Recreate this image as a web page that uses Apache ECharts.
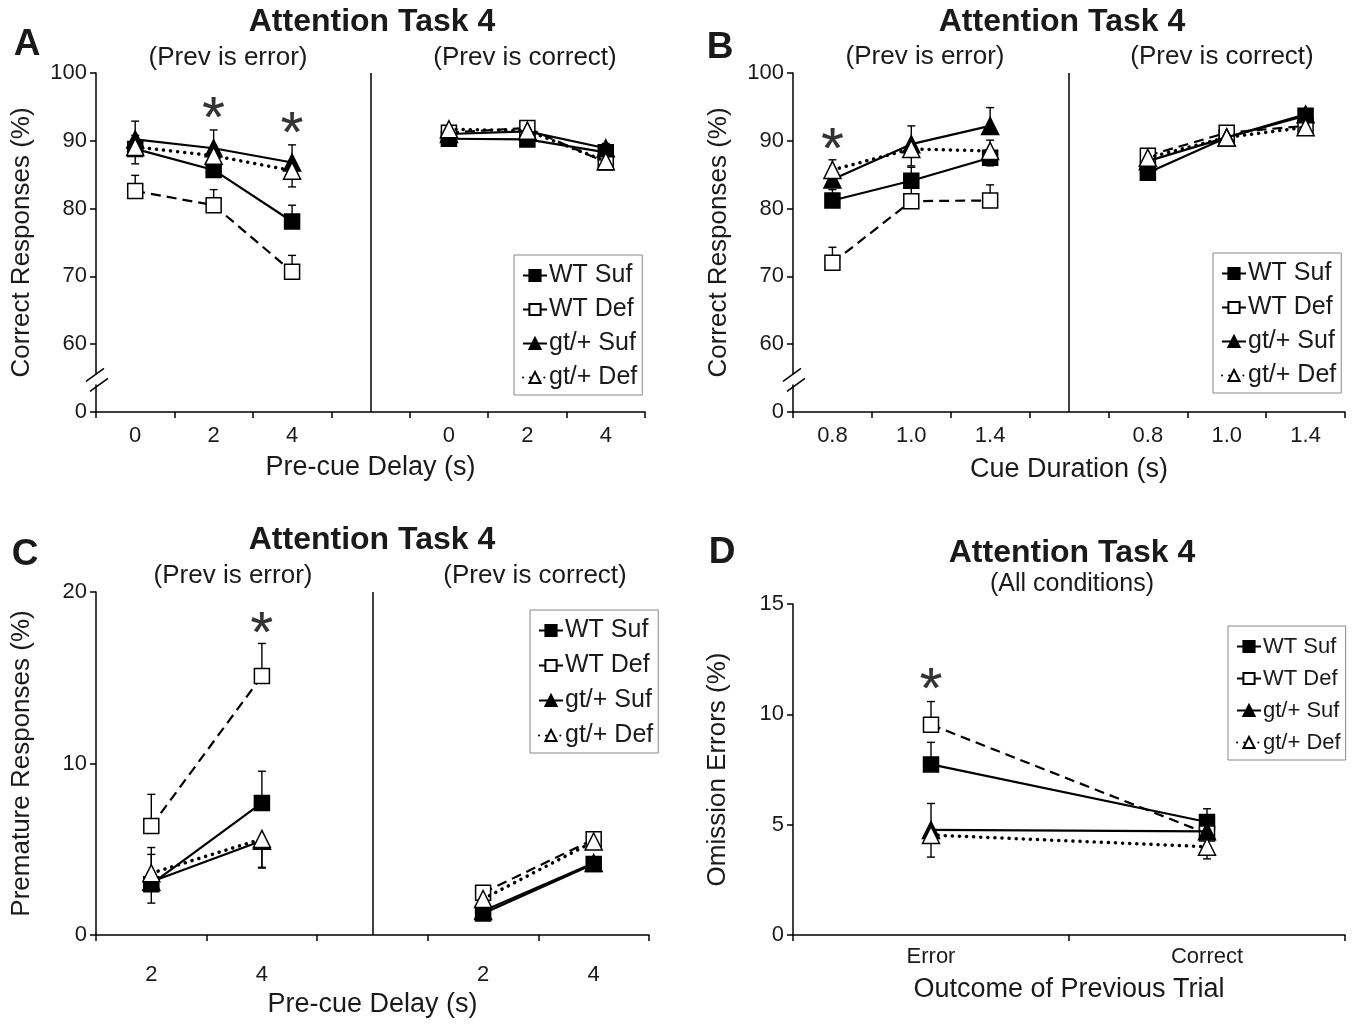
<!DOCTYPE html>
<html>
<head>
<meta charset="utf-8">
<title>Attention Task 4</title>
<script src="https://cdn.jsdelivr.net/npm/echarts@6/dist/echarts.min.js"></script>
<style>
    html, body { margin: 0; padding: 0; background: #fff; }
    #main { width: 1357px; height: 1024px; }
</style>
</head>
<body>
<div id="main"></div>
<script>
    var NAMES = ['WT Suf', 'WT Def', 'gt/+ Suf', 'gt/+ Def'];

    // A: pre-cue delay, prev error | prev correct
    var delaysA = ['0', '2', '4'];
    var A_wtSuf = [88.8, 85.7, 78.1, null, 90.3, 90.2, 88.3];
    var A_wtDef = [82.6, 80.5, 70.7, null, 91.2, 91.9, 86.8];
    var A_gtSuf = [90.2, 88.9, 86.8, null, 91.0, 91.4, 88.9];
    var A_gtDef = [89.1, 87.8, 85.6, null, 91.7, 91.5, 87.0];
    var A_wtSufErr = [2.0, 2.0, 2.4, null, 0.7, 0.7, 0.7];
    var A_wtDefErr = [2.3, 2.3, 2.4, null, 0.7, 0.7, 0.7];
    var A_gtSufErr = [2.7, 2.7, 2.6, null, 0.7, 0.7, 0.7];
    var A_gtDefErr = [-2.5, -2.0, -2.4, null, -0.7, -0.7, -0.7];
    var A_stars = [[1, 94.9], [2, 92.6]];

    // B: cue duration
    var durationsB = ['0.8', '1.0', '1.4'];
    var B_wtSuf = [81.2, 84.1, 87.5, null, 85.3, 90.5, 93.7];
    var B_wtDef = [72.0, 81.1, 81.2, null, 87.8, 91.2, 92.2];
    var B_gtSuf = [84.3, 89.5, 92.2, null, 87.0, 90.5, 93.9];
    var B_gtDef = [85.7, 88.8, 88.5, null, 87.5, 90.5, 92.0];
    var B_wtSufErr = [1.6, 2.0, -1.2, null, 0.6, 0.6, 0.6];
    var B_wtDefErr = [2.3, 2.5, 2.3, null, 0.6, 0.6, 0.6];
    var B_gtSufErr = [1.5, 2.7, 2.7, null, 0.6, 0.6, 0.6];
    var B_gtDefErr = [1.5, -2.5, 1.6, null, -0.6, -0.6, -0.6];
    var B_stars = [[0, 90.2]];

    // C: premature responses
    var delaysC = ['2', '4'];
    var C_wtSuf = [2.96, 7.7, null, 1.26, 4.14];
    var C_wtDef = [6.35, 15.1, null, 2.46, 5.58];
    var C_gtSuf = [3.1, 5.5, null, 1.4, 4.2];
    var C_gtDef = [3.6, 5.6, null, 2.1, 5.45];
    var C_wtSufErr = [-1.1, 1.85, null, -0.3, 0.3];
    var C_wtDefErr = [1.85, 1.9, null, 0.3, 0.3];
    var C_gtSufErr = [1.6, -1.6, null, 0.3, 0.3];
    var C_gtDefErr = [1.5, -1.65, null, 0.3, 0.3];
    var C_stars = [[1, 18.2]];

    // D: omission errors
    var outcomesD = ['Error', 'Correct'];
    var D_wtSuf = [7.73, 5.12];
    var D_wtDef = [9.53, 4.6];
    var D_gtSuf = [4.76, 4.7];
    var D_gtDef = [4.53, 4.0];
    var D_wtSufErr = [1.0, 0.6];
    var D_wtDefErr = [1.05, 0.5];
    var D_gtSufErr = [1.2, 0.5];
    var D_gtDefErr = [-1.0, -0.55];
    var D_stars = [[0, 11.6]];

    var breakAt = 54.8; // where the y axis is broken in A and B

    var FONT = "'Liberation Sans', Arial, sans-serif";
    var INK = '#1a1a1a';

    var STYLES = [
        { symbol: 'rect', size: 15, fill: '#000', type: 'solid', width: 2.2 },
        { symbol: 'rect', size: 15, fill: '#fff', type: [10, 6], width: 2.2 },
        { symbol: 'triangle', size: 17, fill: '#000', type: 'solid', width: 2.2 },
        { symbol: 'triangle', size: 17, fill: '#fff', type: [0.1, 7], width: 3.5, cap: 'round' }
    ];

    var chart = echarts.init(document.getElementById('main'), null, { renderer: 'canvas' });

    function renderErr(params, api) {
        var x = api.value(0), v = api.value(1), e = api.value(2);
        var p0 = api.coord([x, v]);
        var p1 = api.coord([x, v + e]);
        var st = { stroke: '#000', lineWidth: 1.4 };
        return {
            type: 'group',
            children: [
                { type: 'line', shape: { x1: p0[0], y1: p0[1], x2: p1[0], y2: p1[1] }, style: st },
                { type: 'line', shape: { x1: p1[0] - 4, y1: p1[1], x2: p1[0] + 4, y2: p1[1] }, style: st }
            ]
        };
    }

    function renderBreak(params, api) {
        var y = api.coord([0, api.value(1)])[1];
        var x = params.coordSys.x;
        var st = { stroke: '#000', lineWidth: 1.6 };
        return {
            type: 'group',
            children: [
                { type: 'rect', shape: { x: x - 3, y: y - 5, width: 6, height: 10 }, style: { fill: '#fff' } },
                { type: 'line', shape: { x1: x - 10, y1: y + 2, x2: x + 8, y2: y - 11 }, style: st },
                { type: 'line', shape: { x1: x - 6, y1: y + 12, x2: x + 12, y2: y - 1 }, style: st }
            ]
        };
    }

    var grids = [], xAxes = [], yAxes = [], series = [], legends = [], graphics = [];

    function addPanel(cfg) {
        var gi = grids.length;
        grids.push({ left: cfg.left, top: cfg.top, width: cfg.width, height: cfg.height });
        xAxes.push({
            type: 'category', gridIndex: gi, data: cfg.cats, boundaryGap: true,
            name: cfg.xName, nameLocation: 'middle', nameGap: cfg.xNameGap,
            nameTextStyle: { fontFamily: FONT, fontSize: 27, color: INK },
            axisLine: { show: true, lineStyle: { color: '#000', width: 1.5 } },
            axisTick: { show: true, length: 6, lineStyle: { color: '#000', width: 1.5 } },
            axisLabel: { fontFamily: FONT, fontSize: 22, color: INK, margin: cfg.xLabelMargin, interval: 0 },
            splitLine: { show: false }
        });
        yAxes.push({
            type: 'value', gridIndex: gi, min: cfg.yMin, max: cfg.yMax, interval: cfg.yStep,
            name: cfg.yName, nameLocation: 'middle', nameGap: cfg.yNameGap, nameRotate: 90,
            nameTextStyle: { fontFamily: FONT, fontSize: 26, color: INK },
            axisLine: { show: true, lineStyle: { color: '#000', width: 1.5 } },
            axisTick: { show: true, length: 6, lineStyle: { color: '#000', width: 1.5 } },
            axisLabel: {
                fontFamily: FONT, fontSize: 22, color: INK, margin: 9,
                formatter: function (v) { return cfg.brk && v === cfg.yMin ? '0' : String(v); }
            },
            splitLine: { show: false }
        });
        for (var k = 0; k < 4; k++) {
            var st = STYLES[k];
            var s = {
                type: 'line', name: NAMES[k], xAxisIndex: gi, yAxisIndex: gi,
                data: cfg.vals[k], symbol: st.symbol, symbolSize: st.size,
                showAllSymbol: true, connectNulls: false, animation: false, z: 3 + k,
                lineStyle: { color: '#000', width: st.width, type: st.type, cap: st.cap || 'butt' },
                itemStyle: { color: st.fill, borderColor: '#000', borderWidth: 1.5 },
                emphasis: { disabled: true }
            };
            if (k === 0 && cfg.divider != null) {
                s.markLine = {
                    silent: true, symbol: ['none', 'none'], animation: false,
                    label: { show: false },
                    lineStyle: { color: '#000', type: 'solid', width: 1.5 },
                    data: [{ xAxis: cfg.divider }]
                };
            }
            series.push(s);
            var errData = [];
            cfg.vals[k].forEach(function (v, i) {
                var e = cfg.errs[k][i];
                if (v != null && e != null) errData.push([i, v, e]);
            });
            series.push({
                type: 'custom', name: NAMES[k] + ' err', xAxisIndex: gi, yAxisIndex: gi,
                renderItem: renderErr, data: errData, z: 2, animation: false, silent: true
            });
        }
        series.push({
            type: 'scatter', name: 'sig', xAxisIndex: gi, yAxisIndex: gi,
            data: cfg.stars, symbolSize: 1, itemStyle: { color: 'rgba(0,0,0,0)' },
            animation: false, silent: true,
            label: {
                show: true, position: 'inside', formatter: '*', fontFamily: FONT,
                fontSize: 58, color: '#000', textBorderColor: '#000', textBorderWidth: 0.2,
                offset: [0, 13]
            }
        });
        if (cfg.brk) {
            series.push({
                type: 'custom', name: 'break', xAxisIndex: gi, yAxisIndex: gi,
                renderItem: renderBreak, data: [[0, breakAt]], z: 10, animation: false, silent: true
            });
        }
        legends.push({
            data: NAMES, orient: 'vertical', left: cfg.legend[0], top: cfg.legend[1],
            itemWidth: 24, itemHeight: 14, itemGap: cfg.legendGap, selectedMode: false,
            padding: [8, 5, 5, 8], borderColor: '#888', borderWidth: 1,
            textStyle: {
                fontFamily: FONT, fontSize: cfg.legendFont, color: INK, lineHeight: 25,
                padding: [0, 0, 0, -3]
            }
        });
        cfg.texts.forEach(function (t) {
            graphics.push({
                type: 'text', x: t[1], y: t[2],
                style: {
                    text: t[0], fill: INK, textAlign: 'center', textVerticalAlign: 'middle',
                    font: t[3] + ' ' + FONT
                }
            });
        });
    }

    addPanel({
        left: 96, top: 73, width: 549, height: 339,
        cats: delaysA.concat([''], delaysA), divider: 3,
        yMin: 50, yMax: 100, yStep: 10, brk: true,
        xName: 'Pre-cue Delay (s)', xNameGap: 42, xLabelMargin: 13,
        yName: 'Correct Responses (%)', yNameGap: 61,
        vals: [A_wtSuf, A_wtDef, A_gtSuf, A_gtDef],
        errs: [A_wtSufErr, A_wtDefErr, A_gtSufErr, A_gtDefErr],
        stars: A_stars, legend: [514, 255], legendGap: 9, legendFont: 25,
        texts: [
            ['A', 27, 45, 'bold 37px'],
            ['Attention Task 4', 372, 22, 'bold 32px'],
            ['(Prev is error)', 228, 58, '26px'],
            ['(Prev is correct)', 525, 58, '26px']
        ]
    });

    addPanel({
        left: 793, top: 73, width: 552, height: 339,
        cats: durationsB.concat([''], durationsB), divider: 3,
        yMin: 50, yMax: 100, yStep: 10, brk: true,
        xName: 'Cue Duration (s)', xNameGap: 44, xLabelMargin: 13,
        yName: 'Correct Responses (%)', yNameGap: 61,
        vals: [B_wtSuf, B_wtDef, B_gtSuf, B_gtDef],
        errs: [B_wtSufErr, B_wtDefErr, B_gtSufErr, B_gtDefErr],
        stars: B_stars, legend: [1213, 253], legendGap: 9, legendFont: 25,
        texts: [
            ['B', 720, 48, 'bold 37px'],
            ['Attention Task 4', 1062, 22, 'bold 32px'],
            ['(Prev is error)', 925, 57, '26px'],
            ['(Prev is correct)', 1222, 57, '26px']
        ]
    });

    addPanel({
        left: 96, top: 592, width: 553, height: 343,
        cats: delaysC.concat([''], delaysC), divider: 2,
        yMin: 0, yMax: 20, yStep: 10, brk: false,
        xName: 'Pre-cue Delay (s)', xNameGap: 56, xLabelMargin: 29,
        yName: 'Premature Responses (%)', yNameGap: 61,
        vals: [C_wtSuf, C_wtDef, C_gtSuf, C_gtDef],
        errs: [C_wtSufErr, C_wtDefErr, C_gtSufErr, C_gtDefErr],
        stars: C_stars, legend: [530, 610], legendGap: 10, legendFont: 25,
        texts: [
            ['C', 25, 555, 'bold 37px'],
            ['Attention Task 4', 372, 540, 'bold 32px'],
            ['(Prev is error)', 233, 576, '26px'],
            ['(Prev is correct)', 535, 576, '26px']
        ]
    });

    addPanel({
        left: 793, top: 604, width: 552, height: 331,
        cats: outcomesD, divider: null,
        yMin: 0, yMax: 15, yStep: 5, brk: false,
        xName: 'Outcome of Previous Trial', xNameGap: 41, xLabelMargin: 11,
        yName: 'Omission Errors (%)', yNameGap: 62,
        vals: [D_wtSuf, D_wtDef, D_gtSuf, D_gtDef],
        errs: [D_wtSufErr, D_wtDefErr, D_gtSufErr, D_gtDefErr],
        stars: D_stars, legend: [1228, 626], legendGap: 7, legendFont: 22,
        texts: [
            ['D', 722, 553, 'bold 37px'],
            ['Attention Task 4', 1072, 553, 'bold 32px'],
            ['(All conditions)', 1072, 584, '25px']
        ]
    });

    chart.setOption({
        backgroundColor: '#fff',
        animation: false,
        grid: grids,
        xAxis: xAxes,
        yAxis: yAxes,
        legend: legends,
        series: series,
        graphic: { elements: graphics }
    });
</script>
</body>
</html>
